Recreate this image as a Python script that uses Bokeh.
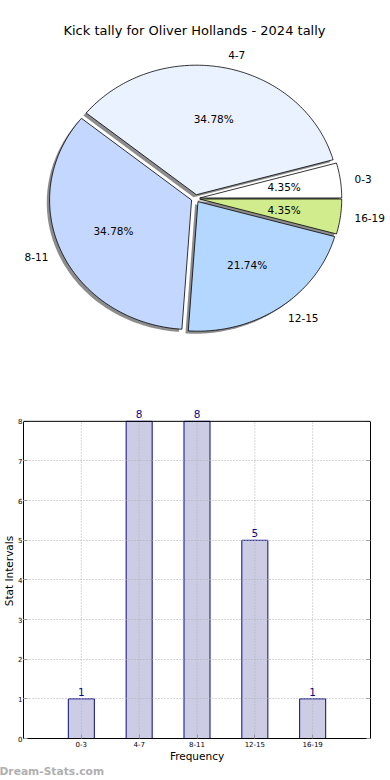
import math
from bokeh.plotting import figure
from bokeh.models import Range1d, Label, FixedTicker, ColumnDataSource, LinearAxis, Span, Title
from bokeh.core.properties import value
from bokeh.embed import file_html
from bokeh.resources import INLINE

title_text = "Kick tally for Oliver Hollands - 2024 tally"
categories = ["0-3", "4-7", "8-11", "12-15", "16-19"]
counts = [1, 8, 8, 5, 1]
pie_colors = ["#ffffff", "#eaf1ff", "#c4d8ff", "#b4d7ff", "#d0ec8c"]
x_label = "Frequency"
y_label = "Stat Intervals"
watermark = "Dream-Stats.com"

FONT = "DejaVu Sans"
EXPLODE = 0.03
total = sum(counts)
ymax = max(counts)

# ---------------- pie ----------------
W = 390
PH = 380
RX, RY = 142, 129.5    # pixels per data unit (elliptical pie like reference)
CX, CY = 195, 198      # pie centre in canvas pixels (from left / top)
p1 = figure(width=W, height=PH,
            x_range=Range1d(-CX / RX, (W - CX) / RX),
            y_range=Range1d(-(PH - CY) / RY, CY / RY),
            output_backend="svg", toolbar_location=None, min_border=0,
            x_axis_location=None, y_axis_location=None)
p1.grid.visible = False
p1.outline_line_color = None

wx, wy, shx, shy = [], [], [], []
lx, ly, lalign, px_, py_, ptxt = [], [], [], [], [], []
start = 0.0
for c in counts:
    frac = c / total
    a0 = 2 * math.pi * start
    a1 = 2 * math.pi * (start + frac)
    am = (a0 + a1) / 2
    ox, oy = EXPLODE * math.cos(am), EXPLODE * math.sin(am)
    n = max(int(frac * 360), 4)
    angs = [a0 + (a1 - a0) * i / n for i in range(n + 1)]
    xx = [ox] + [ox + math.cos(a) for a in angs]
    yy = [oy] + [oy + math.sin(a) for a in angs]
    wx.append(xx)
    wy.append(yy)
    shx.append([v - 0.02 for v in xx])
    shy.append([v - 0.02 for v in yy])
    lx.append(ox + 1.1 * math.cos(am))
    ly.append(oy + 1.1 * math.sin(am))
    lalign.append("left" if math.cos(am) > 0 else "right")
    px_.append(ox + 0.6 * math.cos(am))
    py_.append(oy + 0.6 * math.sin(am))
    ptxt.append(f"{100 * frac:.2f}%")
    start += frac

p1.patches(shx, shy, fill_color="black", fill_alpha=0.45, line_color=None)
p1.patches(wx, wy, fill_color=pie_colors, line_color="black", line_width=0.8)

lsrc = ColumnDataSource(dict(x=lx, y=ly, t=categories, a=lalign))
p1.text("x", "y", text="t", text_align="a", source=lsrc, text_baseline="middle",
        text_font=value(FONT), text_font_size="10.5px", text_color="black")
psrc = ColumnDataSource(dict(x=px_, y=py_, t=ptxt))
p1.text("x", "y", text="t", source=psrc, text_align="center", text_baseline="middle",
        text_font=value(FONT), text_font_size="10.5px", text_color="black")

p1.add_layout(Label(x=194, y=PH - 30, x_units="screen", y_units="screen", text=title_text,
                    text_align="center", text_baseline="middle", text_font=FONT,
                    text_font_size="13px", text_color="black"))

# ---------------- bars ----------------
BH = 400
xpos = list(range(1, len(categories) + 1))
p2 = figure(width=W, height=BH,
            x_range=Range1d(0, len(categories) + 1), y_range=Range1d(0, ymax + 0.45),
            output_backend="svg", toolbar_location=None,
            min_border_left=12, min_border_right=20, min_border_top=23, min_border_bottom=42)
src = ColumnDataSource(dict(x=xpos, top=counts, lab=[str(c) for c in counts],
                            y0=[0] * len(xpos), y1=[ymax] * len(xpos)))
p2.vbar(x="x", top="top", width=0.45, source=src, fill_color="#cccce5",
        line_color="#0a0a80", line_width=1)
# vertical dotted grid lines (category positions), drawn over bars like the reference
p2.segment(x0="x", y0="y0", x1="x", y1="y1", source=src, line_color="#b0b0b0",
           line_dash="1 2", line_width=1)
p2.text(x="x", y="top", text="lab", source=src, text_align="center", text_baseline="bottom",
        y_offset=-3, text_font=value(FONT), text_font_size="10.5px", text_color="#0a0a80")

yticks = list(range(0, ymax + 1))
p2.xaxis.ticker = FixedTicker(ticks=xpos)
p2.xaxis.major_label_overrides = {x: c for x, c in zip(xpos, categories)}
left = p2.yaxis[0]
left.ticker = FixedTicker(ticks=yticks)
left.bounds = (0, ymax)
right = LinearAxis(ticker=FixedTicker(ticks=yticks), bounds=(0, ymax),
                   major_label_overrides={t: "" for t in yticks}, major_label_standoff=0)
p2.add_layout(right, "right")
for ax in (p2.xaxis[0], left, right):
    ax.major_label_text_font = FONT
    ax.major_label_text_color = "black"
    ax.axis_line_color = "black"
    ax.major_tick_in = 4
    ax.major_tick_out = 0
    ax.major_tick_line_color = "#999999"
    ax.minor_tick_line_color = None
    ax.axis_label_text_font = FONT
    ax.axis_label_text_font_size = "10.5px"
    ax.axis_label_text_font_style = "normal"
    ax.axis_label_text_color = "black"
p2.xaxis[0].major_label_text_font_size = "7px"
p2.xaxis[0].major_label_standoff = 2
left.major_label_text_font_size = "7px"
left.major_label_standoff = 1
p2.xaxis[0].axis_label_standoff = 0
left.axis_label_standoff = 0
p2.xaxis[0].axis_label = x_label
left.axis_label = y_label
p2.xgrid.visible = False
p2.ygrid.ticker = FixedTicker(ticks=list(range(1, ymax)))
p2.ygrid.grid_line_color = "#b0b0b0"
p2.ygrid.grid_line_dash = "1 2"
p2.ygrid.level = "overlay"
p2.outline_line_color = None
p2.add_layout(Span(location=ymax, dimension="width", line_color="black", line_width=1))

p2.add_layout(Title(text=watermark, align="left", offset=-24, standoff=-3,
                    text_font=FONT, text_font_size="10.7px", text_font_style="bold",
                    text_color="#b0b0b0"), "below")

open("out.html", "w").write(file_html([p1, p2], INLINE))
